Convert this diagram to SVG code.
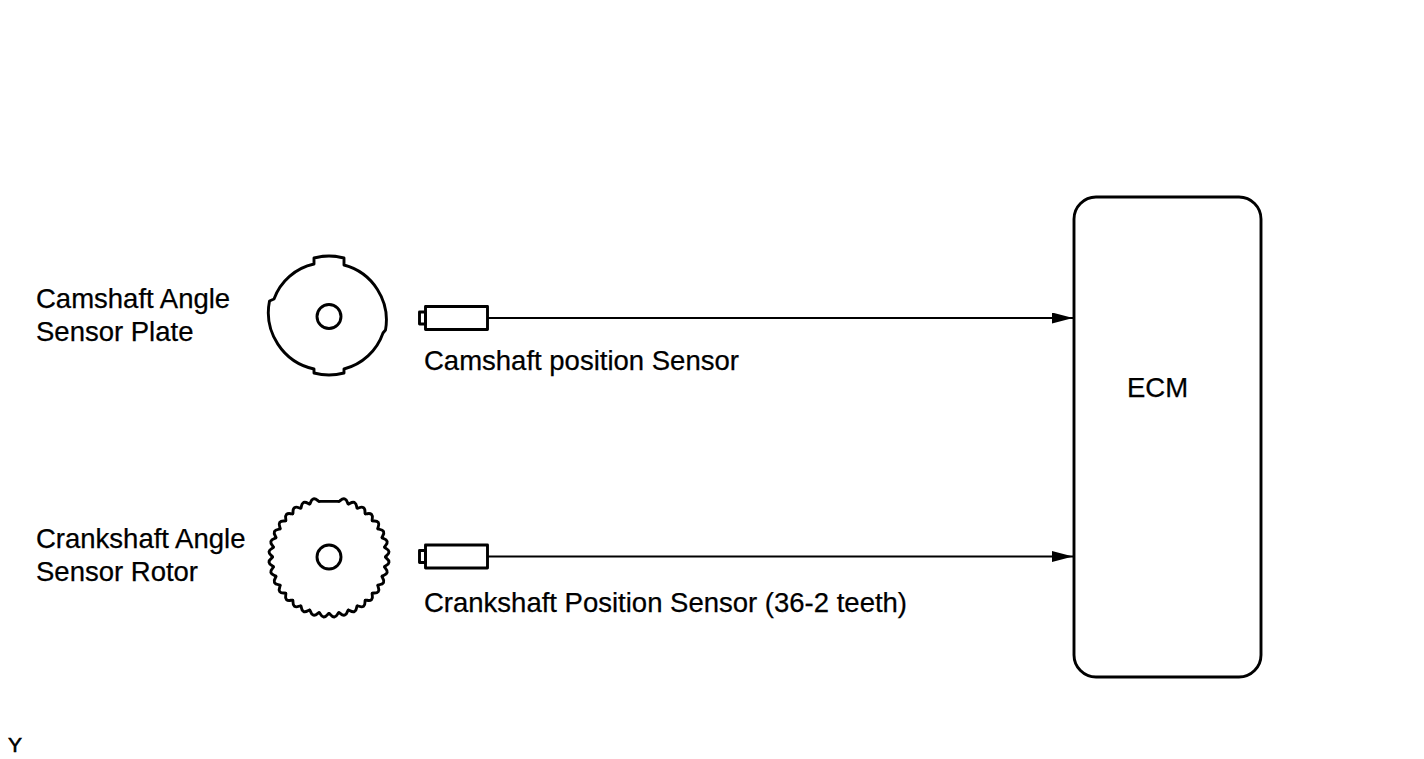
<svg xmlns="http://www.w3.org/2000/svg" xmlns:xlink="http://www.w3.org/1999/xlink" width="1424" height="759" viewBox="0 0 1424 759">
<style>
.ln{fill:none;stroke:#000;stroke-width:2.9;stroke-linejoin:round;stroke-linecap:round}
.wire{fill:none;stroke:#000;stroke-width:2.2}
.t{font-family:"Liberation Sans",Arial,sans-serif;font-size:27.5px;fill:#000;stroke:#000;stroke-width:0.25}
</style>
<defs>
<marker id="arr" markerUnits="userSpaceOnUse" markerWidth="22" markerHeight="12" refX="21" refY="5.5" orient="auto">
<polygon points="0,0 21,5.5 0,11" fill="#000"/>
</marker>
<path id="tooth" d="M -4.92 -56.29 C -3.5 -56.5 -3.3 -60 0 -60.2 C 3.3 -60 3.5 -56.5 4.92 -56.29"/>
</defs>
<rect width="1424" height="759" fill="#fff"/>

<g id="cam-plate">
<path class="ln" d="M 344 265 A 57 57 0 0 1 385.5 330 L 383 333 A 56 56 0 0 1 344 369 L 344 373 A 60 60 0 0 1 314 373 L 314 369 A 58 58 0 0 1 269.5 301 L 274 299 A 55 55 0 0 1 314 264 L 314 258 A 60 60 0 0 1 344 258 Z"/>
<circle class="ln" cx="329" cy="316.5" r="12"/>
<text class="t" x="36" y="308">Camshaft Angle</text>
<text class="t" x="36" y="341">Sensor Plate</text>
</g>

<g id="crank-rotor">
<g class="ln" transform="translate(329,557)">
<line x1="-9.81" y1="-55.6" x2="9.81" y2="-55.6"/>
<use xlink:href="#tooth" transform="rotate(15)"/>
<use xlink:href="#tooth" transform="rotate(25)"/>
<use xlink:href="#tooth" transform="rotate(35)"/>
<use xlink:href="#tooth" transform="rotate(45)"/>
<use xlink:href="#tooth" transform="rotate(55)"/>
<use xlink:href="#tooth" transform="rotate(65)"/>
<use xlink:href="#tooth" transform="rotate(75)"/>
<use xlink:href="#tooth" transform="rotate(85)"/>
<use xlink:href="#tooth" transform="rotate(95)"/>
<use xlink:href="#tooth" transform="rotate(105)"/>
<use xlink:href="#tooth" transform="rotate(115)"/>
<use xlink:href="#tooth" transform="rotate(125)"/>
<use xlink:href="#tooth" transform="rotate(135)"/>
<use xlink:href="#tooth" transform="rotate(145)"/>
<use xlink:href="#tooth" transform="rotate(155)"/>
<use xlink:href="#tooth" transform="rotate(165)"/>
<use xlink:href="#tooth" transform="rotate(175)"/>
<use xlink:href="#tooth" transform="rotate(185)"/>
<use xlink:href="#tooth" transform="rotate(195)"/>
<use xlink:href="#tooth" transform="rotate(205)"/>
<use xlink:href="#tooth" transform="rotate(215)"/>
<use xlink:href="#tooth" transform="rotate(225)"/>
<use xlink:href="#tooth" transform="rotate(235)"/>
<use xlink:href="#tooth" transform="rotate(245)"/>
<use xlink:href="#tooth" transform="rotate(255)"/>
<use xlink:href="#tooth" transform="rotate(265)"/>
<use xlink:href="#tooth" transform="rotate(275)"/>
<use xlink:href="#tooth" transform="rotate(285)"/>
<use xlink:href="#tooth" transform="rotate(295)"/>
<use xlink:href="#tooth" transform="rotate(305)"/>
<use xlink:href="#tooth" transform="rotate(315)"/>
<use xlink:href="#tooth" transform="rotate(325)"/>
<use xlink:href="#tooth" transform="rotate(335)"/>
<use xlink:href="#tooth" transform="rotate(345)"/>
</g>
<circle class="ln" cx="329" cy="557" r="12"/>
<text class="t" x="36" y="548">Crankshaft Angle</text>
<text class="t" x="36" y="581">Sensor Rotor</text>
</g>

<g id="cam-sensor">
<rect class="ln" x="425.5" y="306.5" width="62" height="23"/>
<rect class="ln" x="419.5" y="312" width="6" height="12"/>
<text class="t" x="424" y="370">Camshaft position Sensor</text>
</g>

<g id="crank-sensor">
<rect class="ln" x="425.5" y="545" width="62" height="23"/>
<rect class="ln" x="419.5" y="550.5" width="6" height="12"/>
<text class="t" x="424" y="612">Crankshaft Position Sensor (36-2 teeth)</text>
</g>

<g id="ecm">
<rect class="ln" x="1074" y="197" width="187" height="480" rx="22" ry="22"/>
<text class="t" x="1127" y="397">ECM</text>
</g>

<g id="connectors">
<line class="wire" x1="488" y1="318" x2="1073" y2="318" marker-end="url(#arr)"/>
<line class="wire" x1="488" y1="556.5" x2="1073" y2="556.5" marker-end="url(#arr)"/>
</g>

<text x="8" y="752" style="font-family:'Liberation Sans',Arial,sans-serif;font-size:21px;fill:#000;stroke:#000;stroke-width:0.6">Y</text>
</svg>
